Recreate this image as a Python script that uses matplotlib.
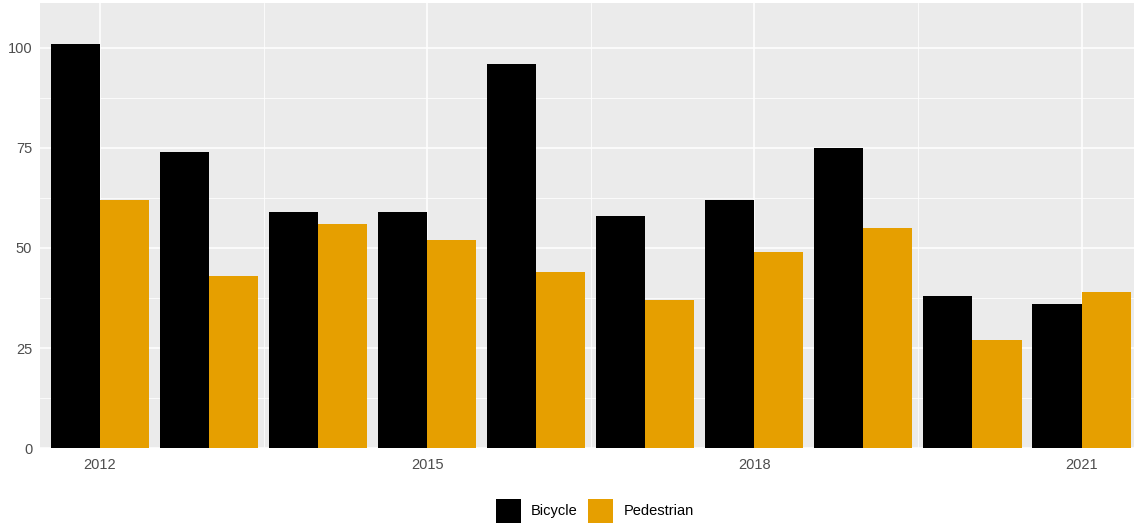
import numpy as np
import matplotlib
matplotlib.use("Agg")
import matplotlib.pyplot as plt
from matplotlib.patches import Patch

years = [2012, 2013, 2014, 2015, 2016, 2017, 2018, 2019, 2020, 2021]
bicycle = [101, 74, 59, 59, 96, 58, 62, 75, 38, 36]
pedestrian = [62, 43, 56, 52, 44, 37, 49, 55, 27, 39]
series_names = ["Bicycle", "Pedestrian"]
x_ticks = [2012, 2015, 2018, 2021]
y_ticks = [0, 25, 50, 75, 100]

plt.rcParams['font.family'] = ['Liberation Sans', 'DejaVu Sans']

fig = plt.figure(figsize=(11.35, 5.24), dpi=100)
ax = fig.add_axes([0.0352, 0.145, 0.9638, 0.849])
ax.set_facecolor('#EBEBEB')

x = np.array(years, dtype=float)
w = 0.45
ax.bar(x - w / 2, bicycle, width=w, color='black', zorder=3)
ax.bar(x + w / 2, pedestrian, width=w, color='#E69F00', zorder=3)

ax.set_xlim(2011.45, 2021.48)
ax.set_ylim(0, 111.2)

ax.set_xticks(x_ticks)
ax.set_xticks([2013.5, 2016.5, 2019.5], minor=True)
ax.set_yticks(y_ticks)
ax.set_yticks([12.5, 37.5, 62.5, 87.5], minor=True)
ax.grid(which='major', color='white', linewidth=1.1, zorder=0)
ax.grid(which='minor', color='white', linewidth=0.55, zorder=0)
ax.set_axisbelow(True)

ax.tick_params(which='both', length=0, labelsize=10.5, labelcolor='#4D4D4D')
ax.tick_params(axis='y', pad=5.5)
ax.tick_params(axis='x', pad=7)
for s in ax.spines.values():
    s.set_visible(False)

handles = [Patch(facecolor='black', edgecolor='none'),
           Patch(facecolor='#E69F00', edgecolor='none')]
fig.legend(handles, series_names, loc='center', ncol=2, frameon=False,
           bbox_to_anchor=(0.524, 0.025), fontsize=10.5, handlelength=1.71,
           handleheight=2.15, handletextpad=0.69, columnspacing=0.75,
           borderpad=0, borderaxespad=0)

fig.savefig('out.png', dpi=100)
